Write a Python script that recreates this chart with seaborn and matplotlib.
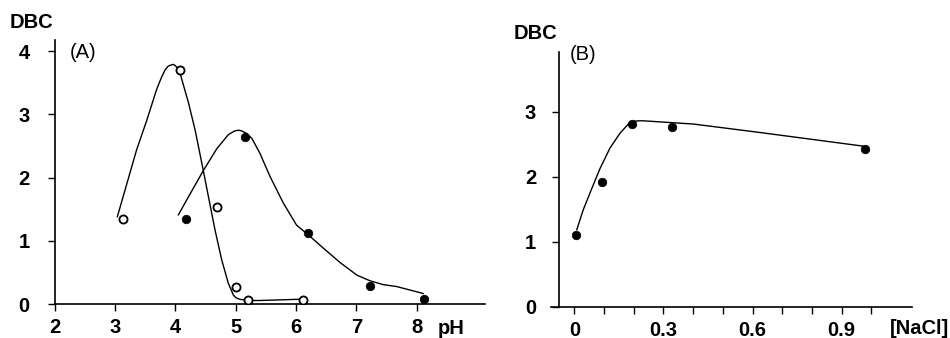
import numpy as np
import pandas as pd
import matplotlib
matplotlib.use("Agg")
import matplotlib.pyplot as plt
import seaborn as sns

# (A) DBC vs pH -- measured points
ph_open = [3.14, 4.08, 4.69, 5.00, 5.20, 6.12]
dbc_open = [1.35, 3.70, 1.54, 0.27, 0.07, 0.07]
ph_filled = [4.17, 5.16, 6.20, 7.23, 8.12]
dbc_filled = [1.35, 2.65, 1.13, 0.29, 0.08]

# (A) hand-drawn trend curves
ph_open_curve = [3.04, 3.20, 3.36, 3.53, 3.69, 3.77, 3.83, 3.88, 3.93, 3.97, 4.00,
                 4.04, 4.08, 4.22, 4.33, 4.44, 4.55, 4.66, 4.77, 4.88, 4.93,
                 4.96, 5.01, 5.07, 5.20, 5.40, 6.07]
dbc_open_curve = [1.38, 1.91, 2.44, 2.91, 3.39, 3.58, 3.70, 3.76, 3.78, 3.79, 3.77,
                  3.73, 3.65, 3.18, 2.75, 2.23, 1.70, 1.17, 0.70, 0.33, 0.22,
                  0.15, 0.10, 0.08, 0.06, 0.06, 0.08]
ph_filled_curve = [4.05, 4.25, 4.47, 4.69, 4.88, 4.95, 4.99, 5.05, 5.10, 5.18,
                   5.27, 5.40, 5.57, 5.79, 6.01, 6.20, 6.45, 6.73, 7.01, 7.23,
                   7.45, 7.67, 8.11]
dbc_filled_curve = [1.41, 1.75, 2.12, 2.46, 2.68, 2.72, 2.74, 2.75, 2.74, 2.70,
                    2.62, 2.39, 2.02, 1.60, 1.25, 1.10, 0.89, 0.66, 0.46, 0.37,
                    0.31, 0.28, 0.17]

# (B) DBC vs [NaCl]
nacl = [0.006, 0.092, 0.195, 0.328, 0.979]
dbc_nacl = [1.10, 1.92, 2.81, 2.77, 2.42]
nacl_curve = [0.008, 0.030, 0.059, 0.087, 0.120, 0.154, 0.170, 0.182, 0.194,
              0.204, 0.220, 0.232, 0.401, 0.625, 0.973]
dbc_nacl_curve = [1.18, 1.49, 1.82, 2.13, 2.44, 2.67, 2.75, 2.81, 2.84,
                  2.855, 2.86, 2.86, 2.81, 2.68, 2.47]

ph_ticks = [2, 3, 4, 5, 6, 7, 8]
nacl_ticks = [0, 0.1, 0.2, 0.3, 0.4, 0.5, 0.6, 0.7, 0.8, 0.9, 1.0]
nacl_labels = ["0", "", "", "0.3", "", "", "0.6", "", "", "0.9", ""]

sns.set_theme(style="ticks")
plt.rcParams['font.family'] = ['Liberation Sans', 'DejaVu Sans']

W, H = 950, 338
FS = 14.5
fig = plt.figure(figsize=(9.5, 3.38), dpi=100)

ax_a = fig.add_axes([54.5 / W, (H - 304.3) / H, (485 - 54.5) / W, (304.3 - 40) / H])
ax_b = fig.add_axes([551 / W, (H - 306.7) / H, (911.7 - 551) / W, (306.7 - 51.7) / H])

line_kw = dict(color="black", linewidth=1.0, sort=False, estimator=None)

# panel A
sns.lineplot(x=ph_open_curve, y=dbc_open_curve, ax=ax_a, **line_kw)
sns.lineplot(x=ph_filled_curve, y=dbc_filled_curve, ax=ax_a, **line_kw)
sns.scatterplot(x=ph_open, y=dbc_open, ax=ax_a, s=34, facecolor="white",
                edgecolor="black", linewidth=1.3, zorder=3)
sns.scatterplot(x=ph_filled, y=dbc_filled, ax=ax_a, s=38, color="black",
                edgecolor="black", linewidth=0.5, zorder=3)
ax_a.set_xlim(2, 9.131)
ax_a.set_ylim(0, 4.175)
ax_a.set_xticks(ph_ticks)
ax_a.set_yticks([0, 1, 2, 3, 4])

# panel B
sns.lineplot(x=nacl_curve, y=dbc_nacl_curve, ax=ax_b, **line_kw)
sns.scatterplot(x=nacl, y=dbc_nacl, ax=ax_b, s=38, color="black",
                edgecolor="black", linewidth=0.5, zorder=3)
ax_b.set_xlim(-0.0785, 1.136)
ax_b.set_ylim(0, 3.923)
ax_b.spines['left'].set_position(('data', -0.0515))
ax_b.set_xticks(nacl_ticks)
ax_b.set_xticklabels(nacl_labels)
ax_b.set_yticks([0, 1, 2, 3])

for ax in (ax_a, ax_b):
    sns.despine(ax=ax)
    ax.set_xlabel("")
    ax.set_ylabel("")
    for sp in ("left", "bottom"):
        ax.spines[sp].set_linewidth(1.2)
        ax.spines[sp].set_color("black")
    ax.tick_params(axis="both", length=5, width=1.0, color="black",
                   labelsize=FS, labelcolor="black")
    ax.tick_params(axis="x", pad=5)
    for lab in ax.get_xticklabels() + ax.get_yticklabels():
        lab.set_fontweight("bold")
    ax.patch.set_alpha(0)

ax_a.tick_params(axis="y", pad=13)
ax_b.tick_params(axis="y", pad=11.5)

def put(px, py, s, weight="bold", ha="left"):
    fig.text(px / W, 1 - py / H, s, fontsize=FS, fontweight=weight,
             ha=ha, va="center", color="black")

put(10, 23, "DBC")
put(514, 33.3, "DBC")
put(70, 53, "(A)", weight="normal")
put(570, 54.3, "(B)", weight="normal")
put(438, 328.3, "pH")
put(890, 328, "[NaCl]")

fig.savefig("out.png", dpi=100)
